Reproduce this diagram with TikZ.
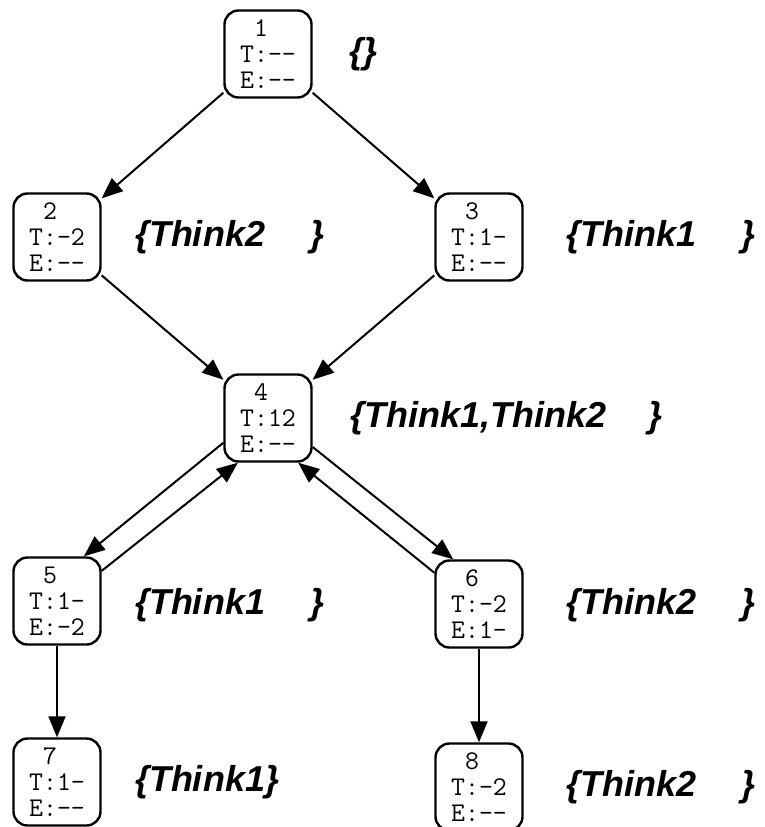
\documentclass[tikz,border=0pt]{standalone}
\usepackage{fontspec}
\usetikzlibrary{arrows.meta}
\newfontfamily\setfont{Liberation Sans}

\tikzset{
  state/.style={draw,rounded corners=14pt,minimum width=87pt,minimum height=87pt,
    inner sep=0pt,align=left,line width=2.4pt,
    font=\ttfamily\fontsize{27}{26}\selectfont},
  setlbl/.style={anchor=west,inner sep=0pt,
    font=\setfont\bfseries\itshape\fontsize{36}{38}\selectfont}
}

\begin{document}
\begin{tikzpicture}[x=1pt,y=-1pt,>={Triangle[length=21pt,width=17pt]},line width=2pt]
  \useasboundingbox (0,0) rectangle (765,827);
  % states
  \node[state] (n1) at (268,54) {\hphantom{0}1\\T:-{}-\\E:-{}-};
  \node[state] (n2) at (57,237) {\hphantom{0}2\\T:-2\\E:-{}-};
  \node[state] (n3) at (479,237) {\hphantom{0}3\\T:1-\\E:-{}-};
  \node[state] (n4) at (268,418) {\hphantom{0}4\\T:12\\E:-{}-};
  \node[state] (n5) at (57,601) {\hphantom{0}5\\T:1-\\E:-2};
  \node[state] (n6) at (479,604) {\hphantom{0}6\\T:-2\\E:1-};
  \node[state] (n7) at (57,782) {\hphantom{0}7\\T:1-\\E:-{}-};
  \node[state] (n8) at (479,787) {\hphantom{0}8\\T:-2\\E:-{}-};
  % sets
  \node[setlbl] (s1) at (348,54) {\{\}};
  \node[setlbl] (s2) at (134,237) {\{Think2\hspace*{45pt}\}};
  \node[setlbl] (s3) at (565,237) {\{Think1\hspace*{45pt}\}};
  \node[setlbl] (s4) at (349,418) {\{Think1,Think2\hspace*{42pt}\}};
  \node[setlbl] (s5) at (134,605) {\{Think1\hspace*{45pt}\}};
  \node[setlbl] (s6) at (565,605) {\{Think2\hspace*{45pt}\}};
  \node[setlbl] (s7) at (134,782) {\{Think1\}};
  \node[setlbl] (s8) at (565,787) {\{Think2\hspace*{45pt}\}};
  % transitions
  \draw[->] (n1)--(n2); \draw[->] (n1)--(n3);
  \draw[->] (n2)--(n4); \draw[->] (n3)--(n4);
  \draw[->] (n4.209)--(n5.59); \draw[->] (n5.34)--(n4.236);
  \draw[->] (n4.327)--(n6.120); \draw[->] (n6.145)--(n4.304);
  \draw[->] (n5)--(n7); \draw[->] (n6)--(n8);
\end{tikzpicture}
\end{document}
